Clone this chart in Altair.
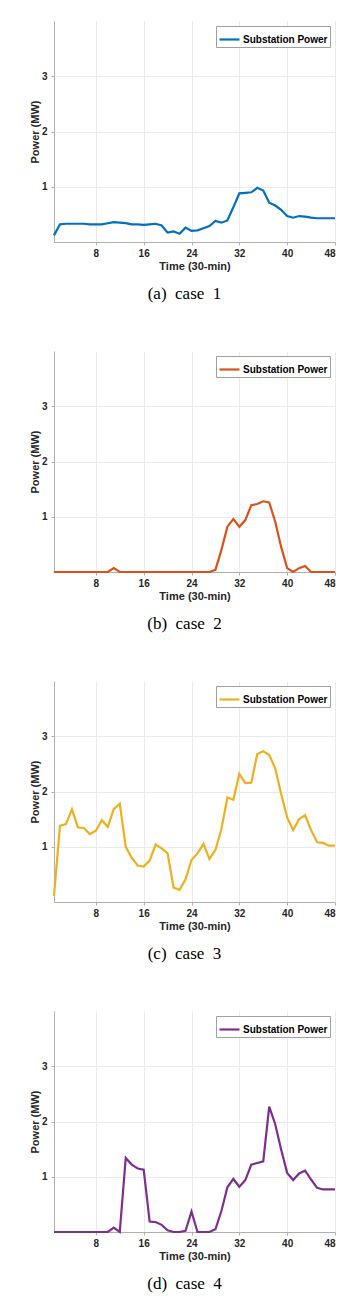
import altair as alt
import pandas as pd

t = list(range(1, 49))

case1 = [0.12, 0.32, 0.33, 0.33, 0.33, 0.33, 0.32, 0.32, 0.32, 0.34, 0.36, 0.35,
         0.34, 0.32, 0.32, 0.31, 0.32, 0.33, 0.30, 0.17, 0.19, 0.15, 0.26, 0.20,
         0.21, 0.25, 0.29, 0.38, 0.35, 0.39, 0.63, 0.88, 0.89, 0.90, 0.98, 0.93,
         0.71, 0.66, 0.58, 0.47, 0.44, 0.47, 0.46, 0.44, 0.43, 0.43, 0.43, 0.43]
case2 = [0, 0, 0, 0, 0, 0, 0, 0, 0, 0, 0.07, 0,
         0, 0, 0, 0, 0, 0, 0, 0, 0, 0, 0, 0,
         0, 0, 0, 0.04, 0.40, 0.82, 0.96, 0.82, 0.94, 1.21, 1.23, 1.28,
         1.26, 0.91, 0.45, 0.07, 0.0, 0.07, 0.11, 0, 0, 0, 0, 0]
case3 = [0.11, 1.38, 1.41, 1.68, 1.35, 1.34, 1.23, 1.29, 1.48, 1.36, 1.68, 1.78,
         1.00, 0.80, 0.66, 0.64, 0.75, 1.04, 0.97, 0.88, 0.26, 0.22, 0.41, 0.76,
         0.88, 1.05, 0.78, 0.94, 1.32, 1.89, 1.85, 2.32, 2.15, 2.16, 2.68, 2.73,
         2.66, 2.42, 1.95, 1.53, 1.30, 1.50, 1.57, 1.30, 1.08, 1.07, 1.02, 1.02]
case4 = [0, 0, 0, 0, 0, 0, 0, 0, 0, 0, 0.08, 0,
         1.34, 1.22, 1.15, 1.13, 0.19, 0.18, 0.13, 0.03, 0.0, 0.0, 0.02, 0.37,
         0, 0, 0, 0.05, 0.38, 0.81, 0.96, 0.82, 0.94, 1.22, 1.25, 1.28,
         2.27, 1.95, 1.49, 1.07, 0.94, 1.06, 1.11, 0.95, 0.80, 0.77, 0.77, 0.77]

series = [case1, case2, case3, case4]
colors = ["#0072BD", "#D95319", "#EDB120", "#7E2F8E"]
NB = "\u00a0"
captions = [f"(a){NB}{NB}case{NB}{NB}1", f"(b){NB}{NB}case{NB}{NB}2",
            f"(c){NB}{NB}case{NB}{NB}3", f"(d){NB}{NB}case{NB}{NB}4"]
x_ticks = [8, 16, 24, 32, 40, 48]
y_ticks = [1, 2, 3]
legend_label = "Substation Power"

panels = []
for vals, col, cap in zip(series, colors, captions):
    df = pd.DataFrame({"t": t, "p": vals, "s": legend_label})
    ch = alt.Chart(df).mark_line(strokeWidth=2.2, interpolate="linear").encode(
        x=alt.X("t:Q", scale=alt.Scale(domain=[1, 48], nice=False, zero=False),
                axis=alt.Axis(values=x_ticks, title="Time (30-min)")),
        y=alt.Y("p:Q", scale=alt.Scale(domain=[0, 4], nice=False),
                axis=alt.Axis(values=y_ticks, title="Power (MW)")),
        color=alt.Color("s:N", scale=alt.Scale(domain=[legend_label], range=[col]),
                        legend=alt.Legend(title=None, orient="top-right", offset=5,
                                          symbolType="stroke", symbolSize=400,
                                          symbolStrokeWidth=2.2, labelFont="Liberation Sans",
                                          labelFontSize=10, labelFontWeight="bold",
                                          labelColor="#000000", strokeColor="#a0a0a0",
                                          fillColor="#ffffff", padding=2, rowPadding=0,
                                          labelOffset=2)),
    ).properties(
        width=281, height=221,
        title=alt.TitleParams(cap, orient="bottom", font="Liberation Serif",
                              fontSize=17, fontWeight="normal", color="#000000",
                              offset=15, dx=-10, anchor="middle"),
    )
    panels.append(ch)

chart = alt.vconcat(*panels, spacing=49).resolve_scale(color="independent").configure_view(
    stroke=None
).configure_axis(
    labelFont="Liberation Sans", labelFontSize=10, labelFontWeight="bold", labelColor="#262626",
    titleFont="Liberation Sans", titleFontSize=11, titleFontWeight="bold", titleColor="#262626",
    domainColor="#b0b0b0", domainWidth=1, gridColor="#ebebeb", gridWidth=1,
    tickColor="#b0b0b0", tickSize=3, labelPadding=3, titlePadding=2,
).configure_axisY(titlePadding=1, labelPadding=4).properties(
    padding={"left": 21, "top": 13, "right": 5, "bottom": 5}
)

chart.save("out.html", embed_options={"renderer": "svg", "actions": False})
